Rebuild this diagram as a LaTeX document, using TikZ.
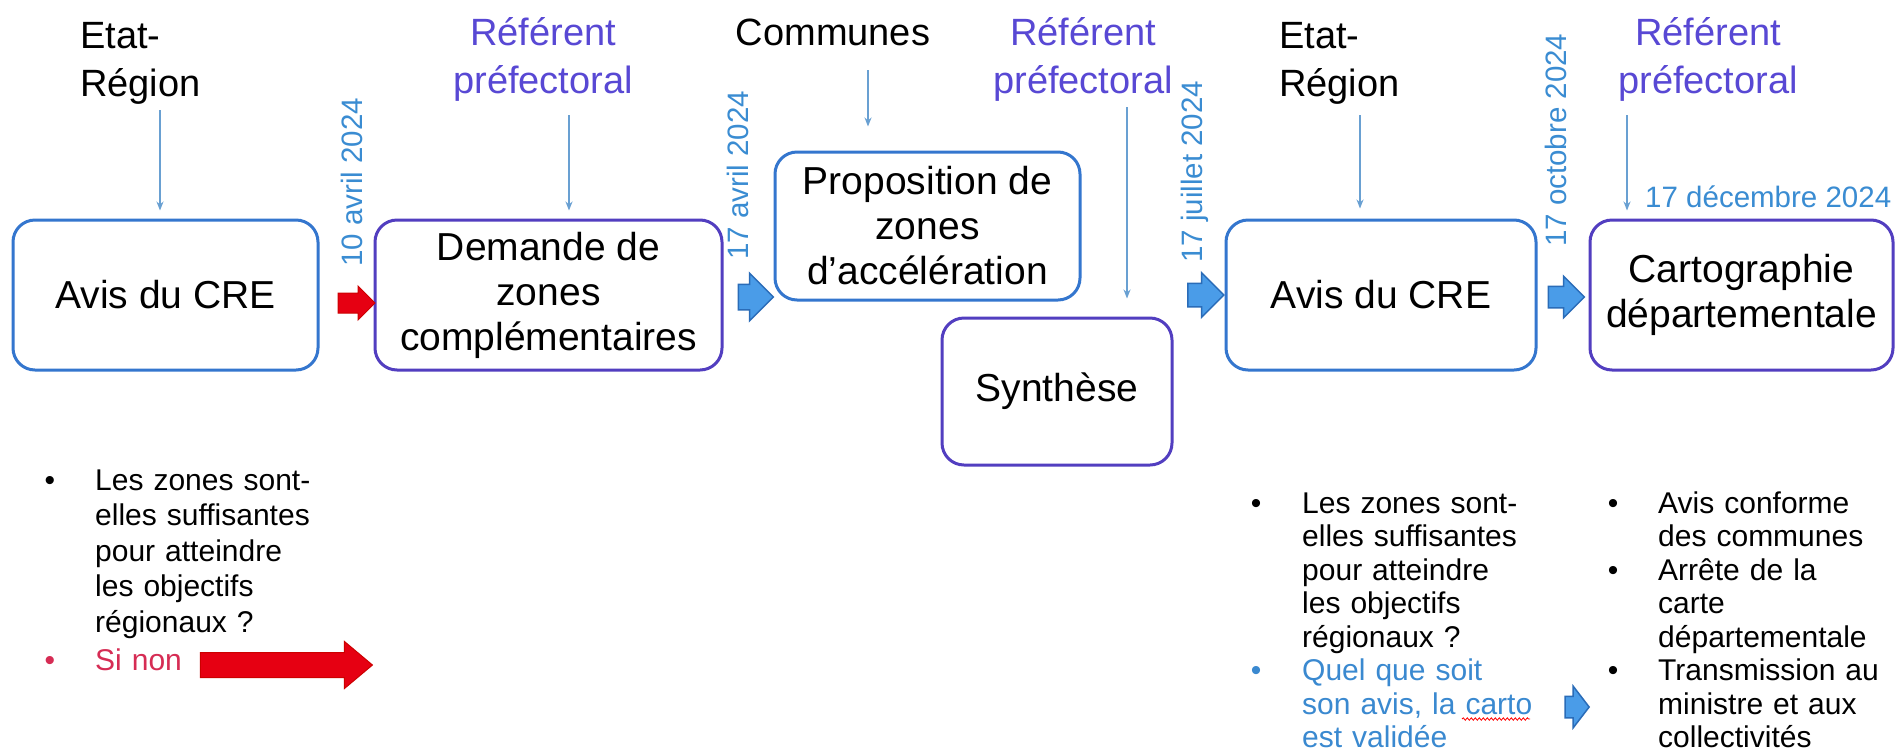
\documentclass[tikz,border=0pt]{standalone}
\usepackage{fontspec}
\setmainfont{Liberation Sans}
\usetikzlibrary{arrows.meta,shapes.arrows,decorations.pathmorphing}

\definecolor{boxblue}{RGB}{52,118,206}
\definecolor{boxpurple}{RGB}{82,62,192}
\definecolor{refpurple}{RGB}{88,72,212}
\definecolor{datecol}{RGB}{58,140,210}
\definecolor{feedcol}{RGB}{105,160,210}
\definecolor{arrowfill}{RGB}{74,156,232}
\definecolor{arrowline}{RGB}{42,108,184}
\definecolor{redfill}{RGB}{230,0,18}
\definecolor{sinon}{RGB}{214,44,84}
\definecolor{quel}{RGB}{58,137,208}

\begin{document}
\begin{tikzpicture}[x=1pt, y=-1pt,
	box/.style={rounded corners=22pt, draw=boxblue, line width=3pt, align=center, inner sep=0pt, font=\fontsize{39}{45}\selectfont},
	lab/.style={inner sep=0pt, text width=220pt, font=\fontsize{38}{48}\selectfont},
	date/.style={inner sep=0pt, text=datecol, font=\fontsize{29.5}{35}\selectfont},
	txt/.style={inner sep=0pt, align=left, text width=300pt, anchor=base west, font=\fontsize{30}{35.5}\selectfont},
	tight/.style={font=\fontsize{30}{33.5}\selectfont},
	bul/.style={inner sep=0pt, anchor=base, font=\fontsize{30}{35}\selectfont},
	feed/.style={draw=feedcol, line width=1.5pt, shorten >=8pt, -{Stealth[length=9pt, width=7pt]}},
	bluearrow/.style={single arrow, draw=arrowline, fill=arrowfill, line width=1.5pt, inner xsep=0pt},
	redarrow/.style={single arrow, draw=red!80!black, fill=redfill, line width=1pt, inner xsep=0pt}]
			\useasboundingbox (0,0) rectangle (1900,753);
			\path[fill=white] (0,0) rectangle (1900,753);

			\node[box, minimum width=305, minimum height=150] (avis1) at (165.5,295) {Avis du CRE};
			\node[box, draw=boxpurple, minimum width=347, minimum height=150] (demande) at (548.5,295) {Demande de\\zones\\complémentaires};
			\node[box, minimum width=305, minimum height=148] (prop) at (927.5,226) {Proposition de\\zones\\d’accélération};
			\node[box, draw=boxpurple, minimum width=230, minimum height=147] (synth) at (1057,391.5) {Synthèse};
			\node[box, minimum width=310, minimum height=150] (avis2) at (1381,295) {Avis du CRE};
			\node[box, draw=boxpurple, minimum width=303, minimum height=150] (carto) at (1741.5,295) {Cartographie\\départementale};

			\node[lab, align=left, anchor=base west] (etat1) at (80,48) {Etat-\\Région};
			\node[lab, align=center, anchor=base, text=refpurple] (ref1) at (543,45) {Référent\\préfectoral};
			\node[lab, align=center, anchor=base] (communes) at (833,45) {Communes};
			\node[lab, align=center, anchor=base, text=refpurple] (ref2) at (1083,45) {Référent\\préfectoral};
			\node[lab, align=left, anchor=base west] (etat2) at (1279,48) {Etat-\\Région};
			\node[lab, align=center, anchor=base, text=refpurple] (ref3) at (1708,45) {Référent\\préfectoral};

			\coordinate (s1) at (160,110);
			\coordinate (s2) at (569,115);
			\coordinate (s3) at (868,70);
			\coordinate (s4) at (1127,107);
			\coordinate (s5) at (1360,115);
			\coordinate (s6) at (1627,115);
			\path (s1) edge[feed] (s1 |- avis1.north);
			\path (s2) edge[feed] (s2 |- demande.north);
			\path (s3) edge[feed, shorten >=24pt] (s3 |- prop.north);
			\path (s4) edge[feed, shorten >=18pt] (s4 |- synth.north);
			\path (s5) edge[feed, shorten >=10pt] (s5 |- avis2.north);
			\path (s6) edge[feed] (s6 |- carto.north);

			\node[date, rotate=90, anchor=west] (d1) at (352,267) {10 avril 2024};
			\node[date, rotate=90, anchor=west] (d2) at (738,260) {17 avril 2024};
			\node[date, rotate=90, anchor=west] (d3) at (1195,263) {17 juillet 2024};
			\node[date, rotate=90, anchor=west] (d4) at (1556,247) {17 octobre 2024};
			\node[date, anchor=west] (d5) at (1645,197) {17 décembre 2024};

			\node[redarrow, minimum height=37, inner ysep=9.5pt, single arrow head extend=7pt] (r1) at (351.5,303) {};
			\node[bluearrow, minimum height=35, inner ysep=12pt, single arrow head extend=11pt] (a1) at (749.5,297) {};
			\node[bluearrow, minimum height=36, inner ysep=11pt, single arrow head extend=10.5pt] (a2) at (1200,295) {};
			\node[bluearrow, minimum height=36, inner ysep=10pt, single arrow head extend=10pt] (a3) at (1561,297) {};

			\node[bul] (p1) at (50,490) {•};
			\node[txt] (t1) at (95,490) {Les zones sont-\\elles suffisantes\\pour atteindre\\les objectifs\\régionaux ?};
			\node[bul, text=sinon] (p2) at (50,670) {•};
			\node[txt, text=sinon] (t2) at (95,670) {Si non};
			\node[redarrow, minimum height=172, inner ysep=12pt, single arrow head extend=11pt, single arrow tip angle=80] (r2) at (279,665) {};

			\node[bul] (p3) at (1256,513) {•};
			\node[txt, tight] (t3) at (1302,513) {Les zones sont-\\elles suffisantes\\pour atteindre\\les objectifs\\régionaux ?};
			\node[bul, text=quel] (p4) at (1256,680.5) {•};
			\node[txt, tight, text=quel] (t4) at (1302,680.5) {Quel que soit\\son avis, la carto\\est validée};
			\draw[red, line width=0.8pt, decorate, decoration={snake, amplitude=1.2pt, segment length=4pt}] (1462,719) -- (1530,719);
			\node[bluearrow, minimum height=24, inner ysep=10pt, single arrow head extend=10pt, single arrow tip angle=105] (a4) at (1573,707) {};

			\node[bul] (p5) at (1613,513) {•};
			\node[txt, tight] (t5) at (1658,513) {Avis conforme\\des communes};
			\node[bul] (p6) at (1613,580) {•};
			\node[txt, tight] (t6) at (1658,580) {Arrête de la\\carte\\départementale};
			\node[bul] (p7) at (1613,680.5) {•};
			\node[txt, tight] (t7) at (1658,680.5) {Transmission au\\ministre et aux\\collectivités};
			\end{tikzpicture}
\end{document}
